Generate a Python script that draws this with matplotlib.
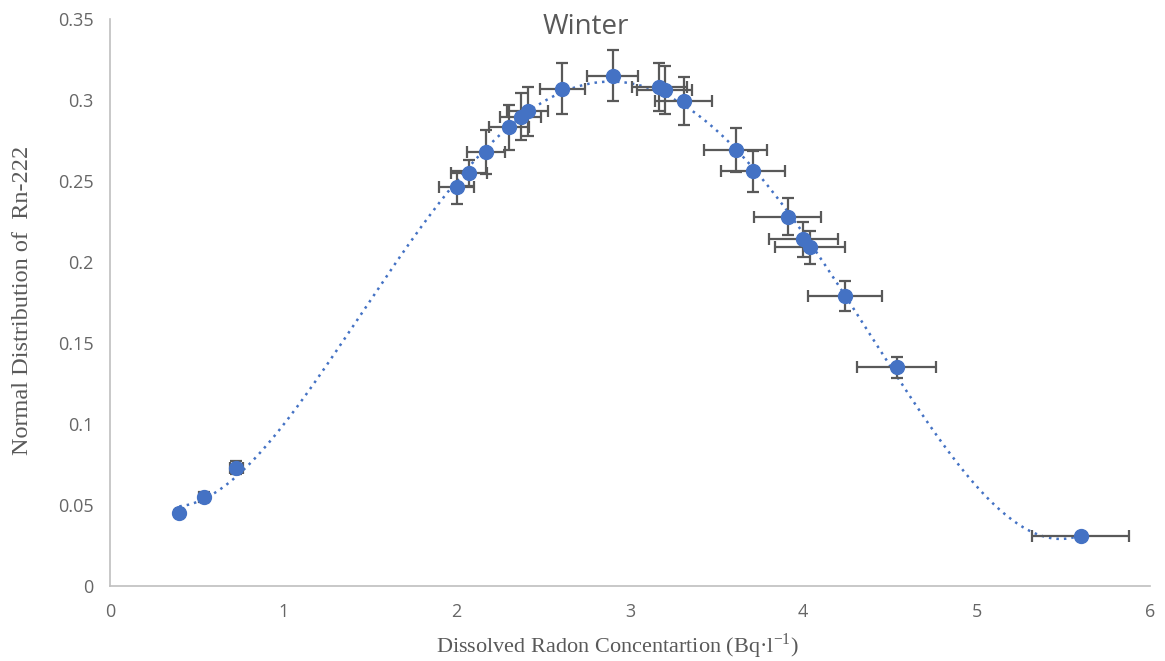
import numpy as np
import matplotlib
matplotlib.use("Agg")
import matplotlib.pyplot as plt

# dissolved radon (Bq/l) vs normal distribution value, winter
conc = [0.40, 0.54, 0.73, 2.00, 2.07, 2.17, 2.30, 2.37, 2.41, 2.61, 2.90,
        3.17, 3.20, 3.31, 3.61, 3.71, 3.91, 4.00, 4.04, 4.24, 4.54, 5.60]
dist = [0.045, 0.055, 0.073, 0.246, 0.255, 0.268, 0.283, 0.2895, 0.293, 0.307, 0.315,
        0.308, 0.306, 0.299, 0.269, 0.256, 0.228, 0.214, 0.209, 0.179, 0.135, 0.031]
conc_err = [0.020, 0.027, 0.037, 0.100, 0.104, 0.109, 0.115, 0.119, 0.120, 0.130, 0.145,
            0.158, 0.160, 0.165, 0.180, 0.185, 0.195, 0.200, 0.202, 0.212, 0.227, 0.280]
dist_err = [0.002, 0.003, 0.004, 0.010, 0.008, 0.0135, 0.014, 0.0145, 0.015, 0.0155, 0.0157,
            0.015, 0.015, 0.0148, 0.0136, 0.0127, 0.0114, 0.0108, 0.0102, 0.0093, 0.0065, 0.001]

blue = '#4472C4'
grey = '#595959'

fig = plt.figure(figsize=(11.65, 6.61), dpi=100)
ax = fig.add_axes([0.0944, 0.1135, 0.8926, 0.858])

# polynomial trendline like excel
coef = np.polyfit(conc, dist, 4)
xs = np.linspace(min(conc), max(conc), 300)
ax.plot(xs, np.polyval(coef, xs), linestyle=(0, (1, 2)), color=blue, lw=1.8, zorder=2)

ax.errorbar(conc, dist, xerr=conc_err, yerr=dist_err, fmt='none',
            ecolor=grey, elinewidth=1.6, capsize=4.5, capthick=1.6, zorder=3)
ax.plot(conc, dist, 'o', color=blue, markersize=10, zorder=4)

ax.set_xlim(0, 6)
ax.set_ylim(0, 0.35)
ax.set_xticks(range(7))
ax.set_yticks([0, 0.05, 0.1, 0.15, 0.2, 0.25, 0.3, 0.35])
ax.set_yticklabels(['0', '0.05', '0.1', '0.15', '0.2', '0.25', '0.3', '0.35'])
ax.tick_params(length=0, labelsize=13, labelcolor='#666666', pad=12)
for lab in ax.get_xticklabels() + ax.get_yticklabels():
    lab.set_family('Open Sans')
for s in ['top', 'right']:
    ax.spines[s].set_visible(False)
for s in ['left', 'bottom']:
    ax.spines[s].set_color('#BFBFBF')
    ax.spines[s].set_linewidth(1.2)

fig.text(0.503, 0.949, 'Winter', ha='center', va='baseline', fontsize=20,
         color=grey, family='Open Sans')
fig.text(0.530, 0.012, 'Dissolved Radon Concentartion (Bq·l$^{\\mathregular{-1}}$)',
         ha='center', va='baseline', fontsize=16, color=grey, family='Liberation Serif')
fig.text(0.019, 0.545, 'Normal Distribution of  Rn-222', ha='center', va='center',
         rotation=90, fontsize=17.5, color=grey, family='Liberation Serif')

fig.savefig('out.png', dpi=100)
